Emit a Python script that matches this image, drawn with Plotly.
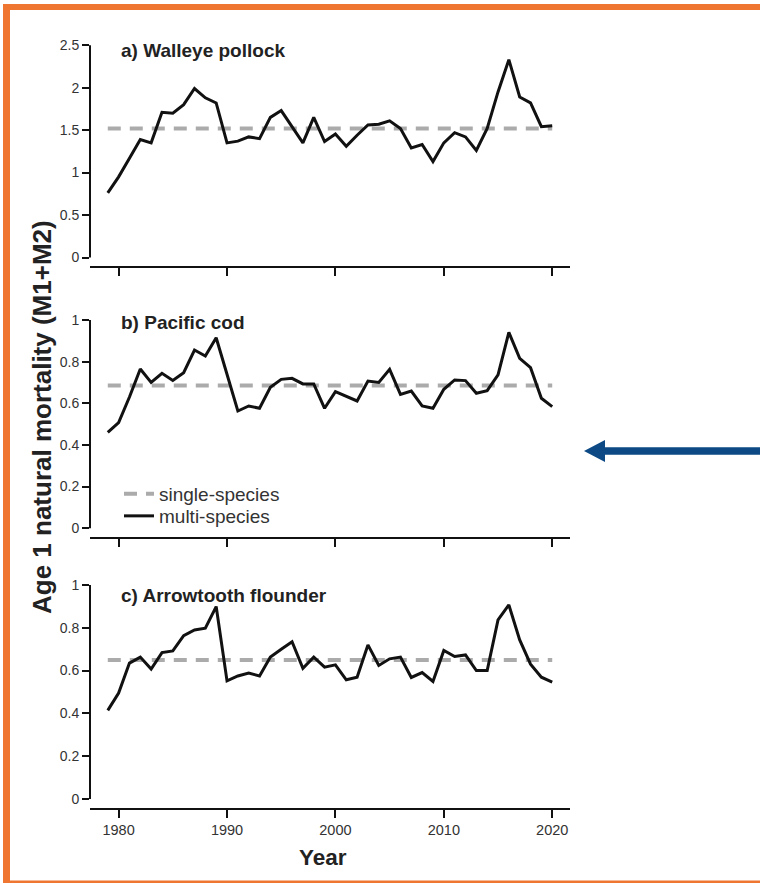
import plotly.graph_objects as go

years = list(range(1979, 2021))

pollock_multi = [0.76, 0.95, 1.17, 1.39, 1.35, 1.71, 1.70, 1.80, 1.99, 1.88, 1.82,
                 1.35, 1.37, 1.42, 1.40, 1.65, 1.73, 1.54, 1.35, 1.65, 1.365,
                 1.455, 1.31, 1.44, 1.56, 1.57, 1.61, 1.52, 1.29, 1.33, 1.13,
                 1.35, 1.47, 1.42, 1.26, 1.52, 1.95, 2.33, 1.89, 1.82, 1.54, 1.55]
pollock_single = 1.52

cod_multi = [0.46, 0.507, 0.63, 0.765, 0.70, 0.744, 0.71, 0.747, 0.856, 0.827, 0.915,
             0.736, 0.563, 0.587, 0.576, 0.677, 0.715, 0.72, 0.693, 0.693, 0.576,
             0.656, 0.632, 0.611, 0.707, 0.70, 0.763, 0.643, 0.659, 0.587, 0.576,
             0.667, 0.712, 0.709, 0.648, 0.661, 0.736, 0.941, 0.816, 0.771, 0.624, 0.584]
cod_single = 0.686

atf_multi = [0.414, 0.495, 0.635, 0.663, 0.607, 0.684, 0.692, 0.763, 0.79, 0.798, 0.899,
             0.552, 0.575, 0.588, 0.575, 0.663, 0.70, 0.735, 0.611, 0.663, 0.616,
             0.627, 0.557, 0.569, 0.72, 0.624, 0.655, 0.663, 0.568, 0.591, 0.549,
             0.694, 0.666, 0.673, 0.60, 0.60, 0.837, 0.907, 0.743, 0.63, 0.569, 0.546]
atf_single = 0.65

panel_titles = ["a) Walleye pollock", "b) Pacific cod", "c) Arrowtooth flounder"]
y_ticks = [[0, 0.5, 1, 1.5, 2, 2.5], [0, 0.2, 0.4, 0.6, 0.8, 1], [0, 0.2, 0.4, 0.6, 0.8, 1]]
y_ticktext = [["0", "0.5", "1", "1.5", "2", "2.5"],
              ["0", "0.2", "0.4", "0.6", "0.8", "1"],
              ["0", "0.2", "0.4", "0.6", "0.8", "1"]]
x_ticks = [1980, 1990, 2000, 2010, 2020]
y_ranges = [[-0.1, 2.6], [-0.04, 1.04], [-0.04, 1.04]]
y_max = [2.5, 1, 1]

W, H = 760, 883
def px(x):
    return x / W
def py(y):
    return 1 - y / H

FONT = "Liberation Sans, Arial, sans-serif"
domains = [[py(266), py(36.7)], [py(536.5), py(311.7)], [py(807.6), py(576.4)]]
title_y = [50, 322, 595]

multi = [pollock_multi, cod_multi, atf_multi]
single = [pollock_single, cod_single, atf_single]

fig = go.Figure()
layout = {}
shapes = []
annotations = []
for i in range(3):
    sfx = "" if i == 0 else str(i + 1)
    xa, ya = "x" + sfx, "y" + sfx
    show_leg = (i == 1)
    fig.add_trace(go.Scatter(x=years, y=[single[i]] * len(years), mode="lines",
                             line=dict(color="#ababab", width=4, dash="13px,9px"),
                             name="single-species", showlegend=show_leg, legend="legend",
                             xaxis=xa, yaxis=ya))
    fig.add_trace(go.Scatter(x=years, y=multi[i], mode="lines",
                             line=dict(color="#111111", width=3),
                             name="multi-species", showlegend=show_leg, legend="legend2",
                             xaxis=xa, yaxis=ya))
    layout["xaxis" + sfx] = dict(domain=[px(90), px(570)], range=[1977.36, 2021.64],
                                 anchor=ya, showgrid=False, zeroline=False,
                                 showline=True, linecolor="#111", linewidth=2,
                                 ticks="outside", ticklen=8, tickwidth=2, tickcolor="#111",
                                 tickvals=x_ticks, ticktext=[str(v) for v in x_ticks],
                                 showticklabels=(i == 2),
                                 tickfont=dict(family=FONT, size=14.5, color="#333"))
    layout["yaxis" + sfx] = dict(domain=domains[i], range=y_ranges[i], anchor=xa,
                                 showgrid=False, zeroline=False, showline=False,
                                 ticks="outside", ticklen=7, tickwidth=2, tickcolor="#111",
                                 tickvals=y_ticks[i], ticktext=y_ticktext[i],
                                 tickfont=dict(family=FONT, size=14, color="#333"))
    shapes.append(dict(type="line", xref=xa + " domain", yref=ya, x0=0, x1=0,
                       y0=0, y1=y_max[i], line=dict(color="#111", width=2)))
    annotations.append(dict(text="<b>" + panel_titles[i] + "</b>", xref="paper", yref="paper",
                            x=px(119), y=py(title_y[i]), xanchor="left", yanchor="middle",
                            showarrow=False, font=dict(family=FONT, size=19, color="#222")))

annotations.append(dict(text="<b>Age 1 natural mortality (M1+M2)</b>", xref="paper", yref="paper",
                        x=px(42), y=py(417), xanchor="center", yanchor="middle", textangle=-90,
                        showarrow=False, font=dict(family=FONT, size=26, color="#222")))
annotations.append(dict(text="<b>Year</b>", xref="paper", yref="paper",
                        x=px(323), y=py(857), xanchor="center", yanchor="middle",
                        showarrow=False, font=dict(family=FONT, size=22.5, color="#222")))

# orange frame
orange = "#ee7630"
shapes.append(dict(type="rect", xref="paper", yref="paper", x0=px(3), x1=1, y0=py(10), y1=py(4),
                   fillcolor=orange, line=dict(width=0)))
shapes.append(dict(type="rect", xref="paper", yref="paper", x0=px(3), x1=px(10), y0=0, y1=py(4),
                   fillcolor=orange, line=dict(width=0)))
shapes.append(dict(type="rect", xref="paper", yref="paper", x0=px(3), x1=1, y0=0, y1=py(880.5),
                   fillcolor=orange, line=dict(width=0)))

# blue arrow
blue = "#0d4a85"
ay = 451
pts = [(584, ay), (605, ay - 11), (605, ay - 3.7), (760, ay - 3.7), (760, ay + 3.7),
       (605, ay + 3.7), (605, ay + 11)]
path = "M " + " L ".join(f"{px(x):.5f},{py(y):.5f}" for x, y in pts) + " Z"
shapes.append(dict(type="path", xref="paper", yref="paper", path=path,
                   fillcolor=blue, line=dict(width=0)))

leg_common = dict(xanchor="left", yanchor="top", bgcolor="rgba(0,0,0,0)",
                  font=dict(family=FONT, size=19, color="#333"), itemwidth=30)
fig.update_layout(**layout)
fig.update_layout(width=W, height=H, margin=dict(l=0, r=0, t=0, b=0),
                  paper_bgcolor="white", plot_bgcolor="white",
                  shapes=shapes, annotations=annotations,
                  legend=dict(x=px(119), y=py(475), **leg_common),
                  legend2=dict(x=px(119), y=py(497), **leg_common))

fig.write_html("out.html")
